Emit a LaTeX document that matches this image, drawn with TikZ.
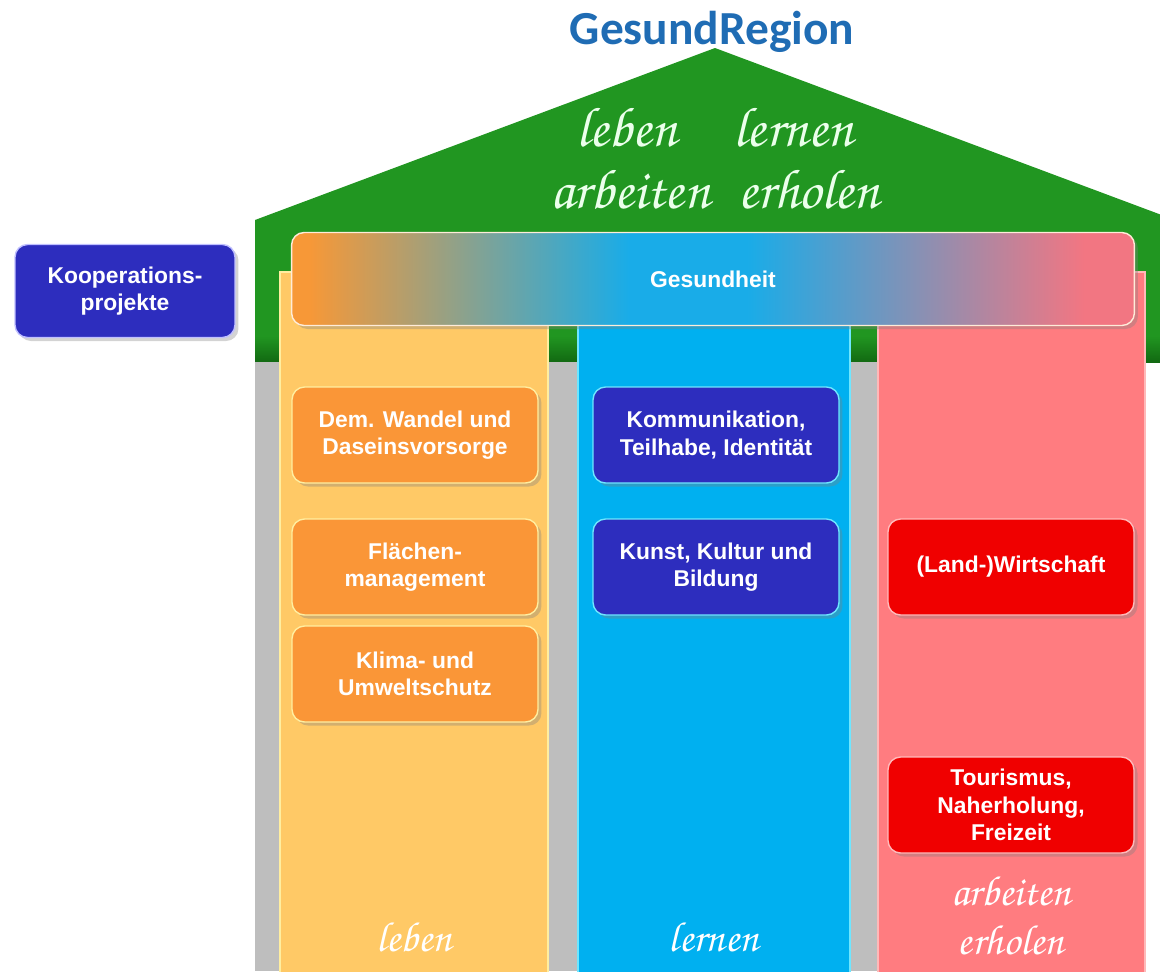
\documentclass[tikz,border=0pt]{standalone}
\usepackage[T1,TU]{fontenc}
\usepackage{fontspec}
\setmainfont{Liberation Sans}
\newfontfamily\titlefont{Carlito}
\usetikzlibrary{shadows}

\definecolor{roofgreen}{RGB}{33,150,33}
\definecolor{roofdark}{RGB}{18,105,18}
\definecolor{titleblue}{RGB}{31,108,180}
\definecolor{lebenfill}{RGB}{255,201,102}
\definecolor{lebenline}{RGB}{255,238,160}
\definecolor{lernenfill}{RGB}{0,176,240}
\definecolor{lernenline}{RGB}{110,230,255}
\definecolor{arbeitfill}{RGB}{255,124,128}
\definecolor{arbeitline}{RGB}{255,185,185}
\definecolor{shadowgray}{RGB}{190,190,190}
\definecolor{boxorange}{RGB}{250,150,55}
\definecolor{boxblue}{RGB}{45,45,190}
\definecolor{boxred}{RGB}{240,0,0}
\definecolor{barorange}{RGB}{247,152,55}
\definecolor{barblue}{RGB}{25,172,232}
\definecolor{barpink}{RGB}{242,118,130}

\pgfdeclarehorizontalshading{gesundshade}{100bp}{color(0bp)=(barorange); color(26bp)=(barorange); color(45bp)=(barblue); color(52bp)=(barblue); color(72bp)=(barpink); color(100bp)=(barpink)}

\newcommand{\handfont}{\fontencoding{T1}\fontfamily{pzc}\fontseries{mb}\fontshape{it}\selectfont}

\begin{document}
\begin{tikzpicture}[x=0.02cm,y=-0.02cm]
	\tikzset{
		topic/.style={rounded corners=0.25cm, minimum width=4.92cm, minimum height=1.92cm,
			align=center, text=white, font=\fontsize{13}{15.6}\selectfont\bfseries,
			line width=0.8pt, drop shadow={shadow xshift=2pt, shadow yshift=-2pt, opacity=0.35}},
		lebenbox/.style={topic, fill=boxorange, draw=lebenline},
		lernenbox/.style={topic, fill=boxblue, draw=lernenline},
		arbeitbox/.style={topic, fill=boxred, draw=arbeitline},
		hand/.style={text=white, font=\handfont\fontsize{24}{28}\selectfont, align=center}}
	\useasboundingbox (0,0) rectangle (1160,971);
	\clip (0,0) rectangle (1160,971);
	% house
	\fill[roofgreen] (255,362) -- (255,220) -- (715,48) -- (1175,220) -- (1175,362) -- cycle;
	\shade[top color=roofgreen, bottom color=roofdark] (255,336) rectangle (1160,362);
	\fill[shadowgray] (255,362) rectangle (1145,971);
	\node[font=\titlefont\fontsize{27}{30}\selectfont\bfseries, text=titleblue](title) at (712,32){GesundRegion};
	\node[hand, text=white!92!green, font=\handfont\fontsize{32}{35}\selectfont](dach) at (715,158){leben\quad lernen\\arbeiten\enspace erholen};
	% pillars
	\draw[fill=lebenfill, draw=lebenline, line width=1.5pt] (280,272) rectangle (548,975);
	\draw[fill=lernenfill, draw=lernenline, line width=1.5pt] (578,272) rectangle (850,975);
	\draw[fill=arbeitfill, draw=arbeitline, line width=1.5pt] (878,272) rectangle (1145,975);
	% beam
	\node[topic, shade, shading=gesundshade, draw=white!85!orange, minimum width=16.86cm, minimum height=1.86cm](gesundheit) at (713,279){Gesundheit};
	\node[topic, fill=boxblue, draw=white!75!blue, minimum width=4.4cm, minimum height=1.86cm](kooperation) at (125,291){Kooperations-\\projekte};
	% topics
	\node[lebenbox](wandel) at (415,435){Dem. Wandel und\\Daseinsvorsorge};
	\node[lebenbox](flaeche) at (415,567){Flächen-\\management};
	\node[lebenbox](klima) at (415,674){Klima- und\\Umweltschutz};
	\node[lernenbox](kommunikation) at (716,435){Kommunikation,\\Teilhabe, Identität};
	\node[lernenbox](kunst) at (716,567){Kunst, Kultur und\\Bildung};
	\node[arbeitbox](wirtschaft) at (1011,567){(Land-)Wirtschaft};
	\node[arbeitbox](tourismus) at (1011,805){Tourismus,\\Naherholung,\\Freizeit};
	% column labels
	\node[hand](leben) at (414,937){leben};
	\node[hand](lernen) at (714,937){lernen};
	\node[hand](arbeiten) at (1011,915){arbeiten\\erholen};
\end{tikzpicture}
\end{document}
